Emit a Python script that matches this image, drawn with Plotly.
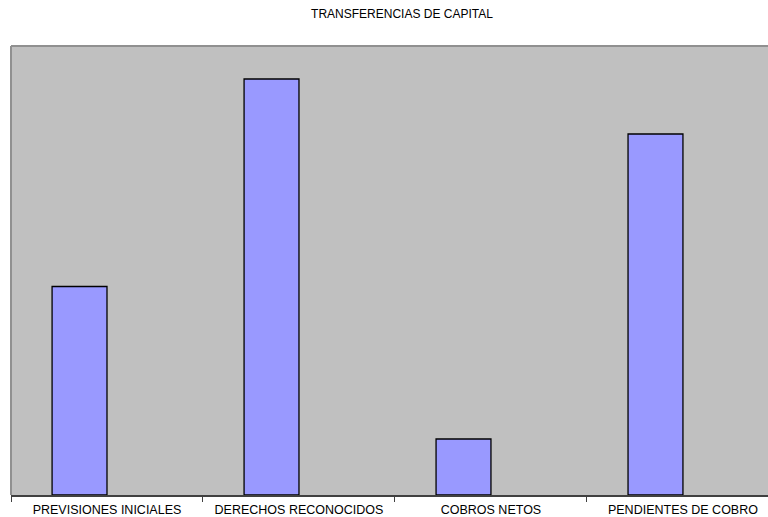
import plotly.graph_objects as go

categories = ["PREVISIONES INICIALES", "DERECHOS RECONOCIDOS", "COBROS NETOS", "PENDIENTES DE COBRO"]
values = [208.5, 416, 56, 361]
y_max = 449
title_text = "TRANSFERENCIAS DE CAPITAL"

W, H = 768, 517

fig = go.Figure()
fig.add_trace(go.Bar(
    x=categories, y=values,
    width=0.286, offset=-0.286,
    marker=dict(color="#9999FF", line=dict(color="#000000", width=1.3)),
    showlegend=False,
))

fig.update_layout(
    width=W, height=H,
    margin=dict(l=11, r=0, t=46, b=22, pad=0),
    paper_bgcolor="white",
    plot_bgcolor="#C0C0C0",
    font=dict(family="Liberation Sans, Arial", size=12, color="black"),
    title=dict(text=title_text, x=402/W, xanchor="center", y=1-14/H, yanchor="middle",
               font=dict(size=12, family="Liberation Sans, Arial", color="black")),
    xaxis=dict(type="category", range=[-0.5, 3.443], tickson="boundaries",
               ticks="outside", ticklen=5, tickcolor="#404040",
               ticklabelstandoff=2, automargin=False,
               showline=True, linecolor="#404040", linewidth=2,
               showgrid=False, zeroline=False, fixedrange=True,
               tickfont=dict(size=12.5)),
    yaxis=dict(range=[0, y_max], showticklabels=False, showgrid=False,
               zeroline=False, ticks="", showline=False, fixedrange=True,
               automargin=False),
    shapes=[
        dict(type="line", xref="paper", yref="paper", x0=0, x1=1, y0=1, y1=1,
             line=dict(color="#909090", width=2)),
        dict(type="line", xref="paper", yref="paper", x0=0, x1=0, y0=0, y1=1,
             line=dict(color="#909090", width=2)),
    ],
)

fig.write_html(
    "out.html",
    config={"displayModeBar": False},
    post_script="document.body.style.margin='0';document.body.style.overflow='hidden';",
)
